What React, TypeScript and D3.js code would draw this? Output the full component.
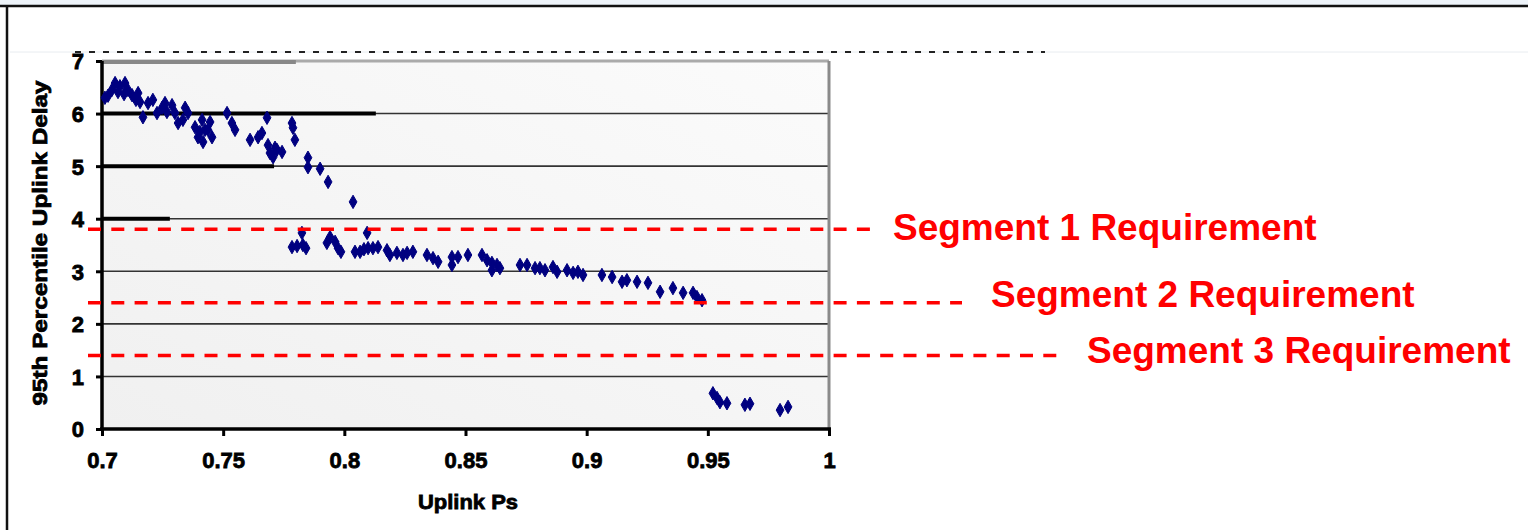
import { useEffect, useRef } from 'react'
import * as d3 from 'd3'

// Uplink Ps vs 95th percentile uplink delay
const pe = [
  0.7012, 0.7025, 0.7041, 0.7054, 0.7066, 0.7074, 0.7095, 0.7091, 0.7107, 0.7124,
  0.714, 0.7149, 0.7157, 0.7169, 0.719, 0.721, 0.7227, 0.7248, 0.726, 0.7268,
  0.7289, 0.7301, 0.7314, 0.7334, 0.7343, 0.7355, 0.7384, 0.7396, 0.7413, 0.7425,
  0.7437, 0.7454, 0.7417, 0.7404, 0.7446, 0.7516, 0.7536, 0.7549, 0.7611, 0.7644,
  0.766, 0.7681, 0.7685, 0.7693, 0.7706, 0.7722, 0.7743, 0.7714, 0.7784, 0.7788,
  0.7796, 0.785, 0.785, 0.79, 0.7933, 0.8036,
  0.7825, 0.7784, 0.7805, 0.7829, 0.7842, 0.7941, 0.7928, 0.7962, 0.7974, 0.7986,
  0.8094, 0.8044, 0.8065, 0.8081, 0.8098, 0.8118, 0.8139, 0.8176, 0.8188, 0.8217,
  0.8242, 0.8259, 0.8283, 0.8341, 0.8366, 0.8387, 0.8444, 0.8444, 0.8469, 0.851,
  0.8568, 0.8589, 0.8609, 0.863, 0.8642, 0.8609, 0.8725, 0.8754, 0.8787, 0.8807,
  0.8828, 0.8861, 0.8878, 0.8919, 0.8944, 0.8964, 0.8985, 0.9063, 0.9105, 0.9146,
  0.9166, 0.9208, 0.9253, 0.9303, 0.9356, 0.9398, 0.9439, 0.9455, 0.9476,
  0.9521, 0.9538, 0.955, 0.9579, 0.9653, 0.9674, 0.9798, 0.9831,
]
const delay = [
  6.3, 6.34, 6.45, 6.58, 6.41, 6.52, 6.58, 6.37, 6.45, 6.35,
  6.26, 6.39, 6.22, 5.93, 6.2, 6.26, 6.01, 6.11, 6.2, 6.03,
  6.16, 6.01, 5.82, 5.88, 6.11, 6.01, 5.74, 5.55, 5.88, 5.69,
  5.69, 5.55, 5.46, 5.65, 5.84, 6.01, 5.82, 5.69, 5.5, 5.55,
  5.63, 5.92, 5.4, 5.25, 5.17, 5.31, 5.27, 5.35, 5.82, 5.73,
  5.5, 5.16, 4.98, 4.95, 4.7, 4.32,
  3.73, 3.46, 3.48, 3.5, 3.44, 3.65, 3.54, 3.56, 3.44, 3.37,
  3.73, 3.37, 3.37, 3.42, 3.44, 3.44, 3.46, 3.4, 3.31, 3.35,
  3.31, 3.35, 3.37, 3.31, 3.25, 3.18, 3.27, 3.12, 3.27, 3.31,
  3.31, 3.21, 3.16, 3.12, 3.06, 3.02, 3.12, 3.12, 3.06, 3.06,
  3.02, 3.08, 2.99, 3.02, 2.97, 2.99, 2.93, 2.93, 2.89, 2.8,
  2.83, 2.8, 2.78, 2.61, 2.68, 2.59, 2.59, 2.51, 2.45,
  0.68, 0.59, 0.51, 0.49, 0.46, 0.48, 0.36, 0.42,
]

const xTicks = [0.7, 0.75, 0.8, 0.85, 0.9, 0.95, 1]
const xTickLabels = ['0.7', '0.75', '0.8', '0.85', '0.9', '0.95', '1']
const yTicks = [0, 1, 2, 3, 4, 5, 6, 7]

const reqNames = ['Segment 1 Requirement', 'Segment 2 Requirement', 'Segment 3 Requirement']
const reqValues = [3.8, 2.4, 1.4]

// the low-res original shows heavier strokes on the left part of some gridlines
const heavyGrid = [6, 5, 4]
const heavyGridEnd = [0.813, 0.771, 0.728]

export default function App() {
  const ref = useRef<SVGSVGElement>(null)

  useEffect(() => {
    const svg = d3.select(ref.current)
    svg.selectAll('*').remove()

    const x = d3.scaleLinear().domain([0.7, 1]).range([102, 829])
    const y = d3.scaleLinear().domain([0, 7]).range([429, 61])
    const font = '"Liberation Sans", Arial, sans-serif'

    // slide frame
    svg.append('rect').attr('x', 0).attr('y', 0).attr('width', 1528).attr('height', 6).attr('fill', '#edf3f9')
    svg.append('line').attr('x1', 0).attr('x2', 1528).attr('y1', 6).attr('y2', 6).attr('stroke', '#111').attr('stroke-width', 2.5)
    svg.append('line').attr('x1', 7).attr('x2', 7).attr('y1', 6).attr('y2', 530).attr('stroke', '#111').attr('stroke-width', 2.5)
    svg.append('line').attr('x1', 10).attr('x2', 1528).attr('y1', 52).attr('y2', 52).attr('stroke', '#e8ecf0').attr('stroke-width', 1)
    svg.append('line').attr('x1', 75).attr('x2', 1045).attr('y1', 52).attr('y2', 52)
      .attr('stroke', '#222').attr('stroke-width', 2).attr('stroke-dasharray', '6,8')

    // plot area
    const defs = svg.append('defs')
    const grad = defs.append('linearGradient').attr('id', 'bg').attr('x1', '0').attr('y1', '1').attr('x2', '1').attr('y2', '0')
    grad.append('stop').attr('offset', '0').attr('stop-color', '#f0f0f0')
    grad.append('stop').attr('offset', '1').attr('stop-color', '#fbfbfb')
    svg.append('rect').attr('x', x(0.7)).attr('y', y(7)).attr('width', x(1) - x(0.7)).attr('height', y(0) - y(7)).attr('fill', 'url(#bg)')

    svg.append('g').selectAll('line').data(yTicks.filter((d) => d > 0 && d < 7)).join('line')
      .attr('x1', x(0.7)).attr('x2', x(1)).attr('y1', (d) => y(d)).attr('y2', (d) => y(d))
      .attr('stroke', '#333').attr('stroke-width', 1.6)
    svg.append('g').selectAll('line').data(heavyGrid).join('line')
      .attr('x1', x(0.7)).attr('x2', (_, i) => x(heavyGridEnd[i])).attr('y1', (d) => y(d)).attr('y2', (d) => y(d))
      .attr('stroke', '#000').attr('stroke-width', 4)

    svg.append('line').attr('x1', x(0.7)).attr('x2', x(1)).attr('y1', y(7)).attr('y2', y(7)).attr('stroke', '#aaa').attr('stroke-width', 3)
    svg.append('line').attr('x1', x(0.7)).attr('x2', x(0.78)).attr('y1', y(7) + 1).attr('y2', y(7) + 1).attr('stroke', '#888').attr('stroke-width', 4)
    svg.append('line').attr('x1', x(1)).attr('x2', x(1)).attr('y1', y(7)).attr('y2', y(0)).attr('stroke', '#8a8a8a').attr('stroke-width', 3)

    // axes
    const xAxis = svg.append('g').attr('transform', `translate(0,${y(0)})`)
      .call(d3.axisBottom(x).tickValues(xTicks).tickSize(7).tickFormat((_, i) => xTickLabels[i]))
    xAxis.select('.domain').attr('stroke', '#000').attr('stroke-width', 3.5).attr('d', `M${x(0.7) - 2},0H${x(1) + 2}`)
    xAxis.selectAll('.tick line').attr('stroke', '#000').attr('stroke-width', 3)
    xAxis.selectAll('.tick text').attr('dy', 0).attr('y', 39).style('font-family', font)
      .style('font-weight', 900).style('font-size', '22px').attr('fill', '#000')
      .attr('stroke', '#000').attr('stroke-width', 0.8)

    const yAxis = svg.append('g').attr('transform', `translate(${x(0.7)},0)`)
      .call(d3.axisLeft(y).tickValues(yTicks).tickSize(6).tickFormat(d3.format('d')))
    yAxis.select('.domain').attr('stroke', '#000').attr('stroke-width', 3.5).attr('d', `M0,${y(7)}V${y(0)}`)
    yAxis.selectAll('.tick line').attr('stroke', '#000').attr('stroke-width', 3)
    yAxis.selectAll('.tick text').attr('x', -18).attr('dy', '0.36em').style('font-family', font)
      .style('font-weight', 900).style('font-size', '22px').attr('fill', '#000')
      .attr('stroke', '#000').attr('stroke-width', 0.8)

    // axis titles
    svg.append('text').attr('transform', 'translate(47,243) rotate(-90)').attr('text-anchor', 'middle')
      .attr('textLength', 325).attr('lengthAdjust', 'spacingAndGlyphs')
      .attr('stroke', '#000').attr('stroke-width', 0.8)
      .style('font-family', font).style('font-weight', 900).style('font-size', '20px').text('95th Percentile Uplink Delay')
    svg.append('text').attr('x', 468).attr('y', 509).attr('text-anchor', 'middle')
      .attr('textLength', 100).attr('lengthAdjust', 'spacingAndGlyphs')
      .attr('stroke', '#000').attr('stroke-width', 0.8)
      .style('font-family', font).style('font-weight', 900).style('font-size', '21px').text('Uplink Ps')

    // points
    const pts = d3.range(pe.length).map((i) => ({ x: pe[i], y: delay[i] }))
    const diamond = d3.symbol().type(d3.symbolDiamond).size(52)
    svg.append('g').selectAll('path').data(pts).join('path')
      .attr('d', diamond)
      .attr('transform', (d) => `translate(${x(d.x)},${y(d.y)})`)
      .attr('fill', '#000080')
      .attr('stroke', '#000080').attr('stroke-width', 1)

    // requirement lines
    const lineEnd = [875, 962, 1058]
    const labelDy = [11, 4, 8]
    const req = svg.append('g')
    reqValues.forEach((v, i) => {
      req.append('line').attr('x1', 88).attr('x2', lineEnd[i]).attr('y1', y(v)).attr('y2', y(v))
        .attr('stroke', '#ff0000').attr('stroke-width', 3.5).attr('stroke-dasharray', '13,10.3')
      req.append('text').attr('x', lineEnd[i] + (i === 0 ? 18 : 29)).attr('y', y(v) + labelDy[i])
        .style('font-family', font).style('font-weight', 700).style('font-size', '37px')
        .attr('fill', '#ff0000').text(reqNames[i])
    })
  }, [])

  return (
    <svg ref={ref} width={1528} height={530} style={{ position: 'absolute', left: 0, top: 0, background: '#fff' }} />
  )
}
